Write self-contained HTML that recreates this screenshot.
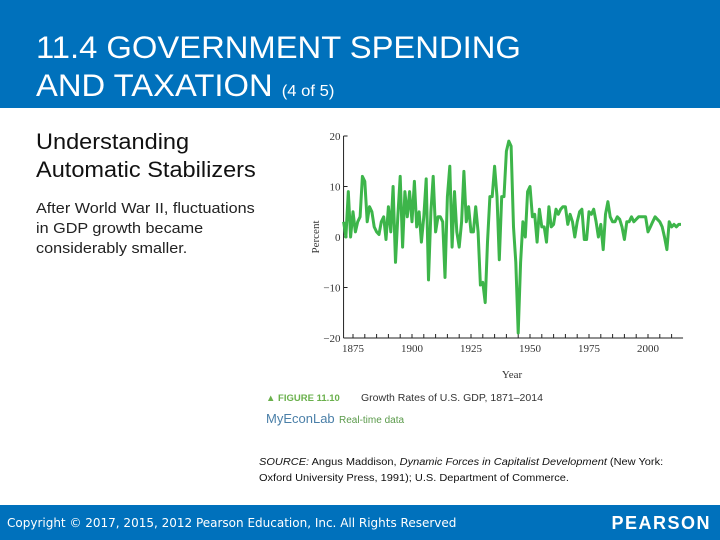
<!DOCTYPE html>
<html><head><meta charset="utf-8">
<style>
body{margin:0;width:720px;height:540px;position:relative;background:#fff;overflow:hidden;font-family:"Liberation Sans",sans-serif}
.hdr{position:absolute;left:0;top:0;width:720px;height:108px;background:#0071bc}
.title{position:absolute;left:36px;top:28px;color:#fff;font-size:31.5px;line-height:38px;transform:scaleX(1.04);transform-origin:left}
.title small{font-size:16px}
.sub{position:absolute;left:36px;top:128px;font-size:22px;line-height:28px;color:#111;transform:scaleX(1.07);transform-origin:left}
.body{position:absolute;left:36px;top:199px;font-size:15px;line-height:20px;color:#222;transform:scaleX(1.08);transform-origin:left}
.ftr{position:absolute;left:0;top:505px;width:720px;height:35px;background:#0071bc}
.copy{position:absolute;left:7px;top:11px;color:#fff;font-size:12px;font-family:"DejaVu Sans",sans-serif}
.pear{position:absolute;right:9px;top:8px;color:#fff;font-size:18px;font-weight:bold;letter-spacing:1.5px}
</style></head><body>
<div class="hdr">
<div class="title">11.4 GOVERNMENT SPENDING<br>AND TAXATION <small>(4 of 5)</small></div>
</div>
<div class="sub">Understanding<br>Automatic Stabilizers</div>
<div class="body">After World War II, fluctuations<br>in GDP growth became<br>considerably smaller.</div>
<svg id="chart" width="720" height="540" style="position:absolute;left:0;top:0"></svg>
<div style="position:absolute;left:259px;top:455px;font-size:10px;line-height:16px;color:#111;transform:scaleX(1.1);transform-origin:left"><i>SOURCE:</i> Angus Maddison, <i>Dynamic Forces in Capitalist Development</i> (New York:<br>Oxford University Press, 1991); U.S. Department of Commerce.</div>
<div class="ftr">
<div class="copy">Copyright © 2017, 2015, 2012 Pearson Education, Inc. All Rights Reserved</div>
<div class="pear">PEARSON</div>
</div>
<script>
const startYear = 1871;
const growth = [
3,0,9,0,5,1,3,4,12,11,
3,6,5,2,1,0.5,3,4,-0.5,6,
1,10,-5,4,12,-2,9,4,9,3,
11,2,5,-1,4,11.5,-8.5,5,12,1,
4,4,3,-8,8,14,-2,9,1,-2,
3,13,3,6,1,1,6,1,-9.5,-9,
-13,-1,8,8,14,8,-4.5,8,8,17,
19,18,2,-5,-19,-5,3,0,9,10,
4,4.5,-1,5.5,2,2,-1,6,2,2.5,
5.5,4.5,5.5,6,6,2.5,4.5,3,0,3,
5,5.5,-0.5,-0.5,5,4.5,5.5,3,0,2.5,
-2.5,4.5,7,4,3,3,4,3.5,2,-0.5,
3,3,4,3,3.5,4,4,4,4,1,
2,3,4,3.5,3,2,0,-2.5,3,2,
2.5,2,2.5,2.5];
const yTicks = [20,10,0,-10,-20];
const yTickLabels = ["20","10","0","\u221210","\u221220"];
const xTicks = [1875,1900,1925,1950,1975,2000];
const NS="http://www.w3.org/2000/svg";
const svg=document.getElementById('chart');
const X=y=>353+(y-1875)*(295/125);
const Y=v=>237-v*5.05;
function mk(t,a,txt){const e=document.createElementNS(NS,t);for(const k in a)e.setAttribute(k,a[k]);if(txt!==undefined)e.textContent=txt;svg.appendChild(e);return e;}
const f='font-family:"Liberation Serif",serif;font-size:11px;fill:#333';
let e=mk('line',{x1:X(1871),y1:Y(20),x2:X(1871),y2:Y(-20),stroke:'#222','stroke-width':1});

e=mk('line',{x1:X(1871),y1:Y(-20),x2:X(2014)+2,y2:Y(-20),stroke:'#222','stroke-width':1});

yTicks.forEach((v,i)=>{
 mk('line',{x1:X(1871),x2:X(1871)+4,y1:Y(v),y2:Y(v),stroke:'#222'});
 const t=mk('text',{x:X(1871)-3,y:Y(v)+4,'text-anchor':'end',style:f},yTickLabels[i]);
 
});
for(let yr=1875;yr<=2010;yr+=5){mk('line',{x1:X(yr),x2:X(yr),y1:Y(-20),y2:Y(-20)-4,stroke:'#222'});}
xTicks.forEach(yr=>{
 const t=mk('text',{x:X(yr),y:Y(-20)+14,'text-anchor':'middle',style:f},String(yr));
 
});
e=mk('text',{x:512,y:378,'text-anchor':'middle',style:f},'Year');

e=mk('text',{x:0,y:0,'text-anchor':'middle',style:f,transform:'translate(319,237) rotate(-90)'},'Percent');

const pts=growth.map((v,i)=>X(startYear+i).toFixed(1)+','+Y(v).toFixed(1)).join(' ');
e=mk('polyline',{points:pts,fill:'none',stroke:'#3db54a','stroke-width':3,'stroke-linejoin':'round'});

e=mk('text',{x:266,y:401,style:'font-family:"Liberation Sans",sans-serif;font-size:9.5px;fill:#6ab04c;font-weight:bold'},'\u25B2 FIGURE 11.10');

e=mk('text',{x:361,y:401,style:'font-family:"Liberation Sans",sans-serif;font-size:10.5px;fill:#333'},'Growth Rates of U.S. GDP, 1871\u20132014');

e=mk('text',{x:266,y:423,style:'font-family:"Liberation Sans",sans-serif;font-size:13px;fill:#4a7fa8'},'MyEconLab');

e=mk('text',{x:339,y:423,style:'font-family:"Liberation Sans",sans-serif;font-size:10px;fill:#5a9a4a'},'Real-time data');

</script>
</body></html>
